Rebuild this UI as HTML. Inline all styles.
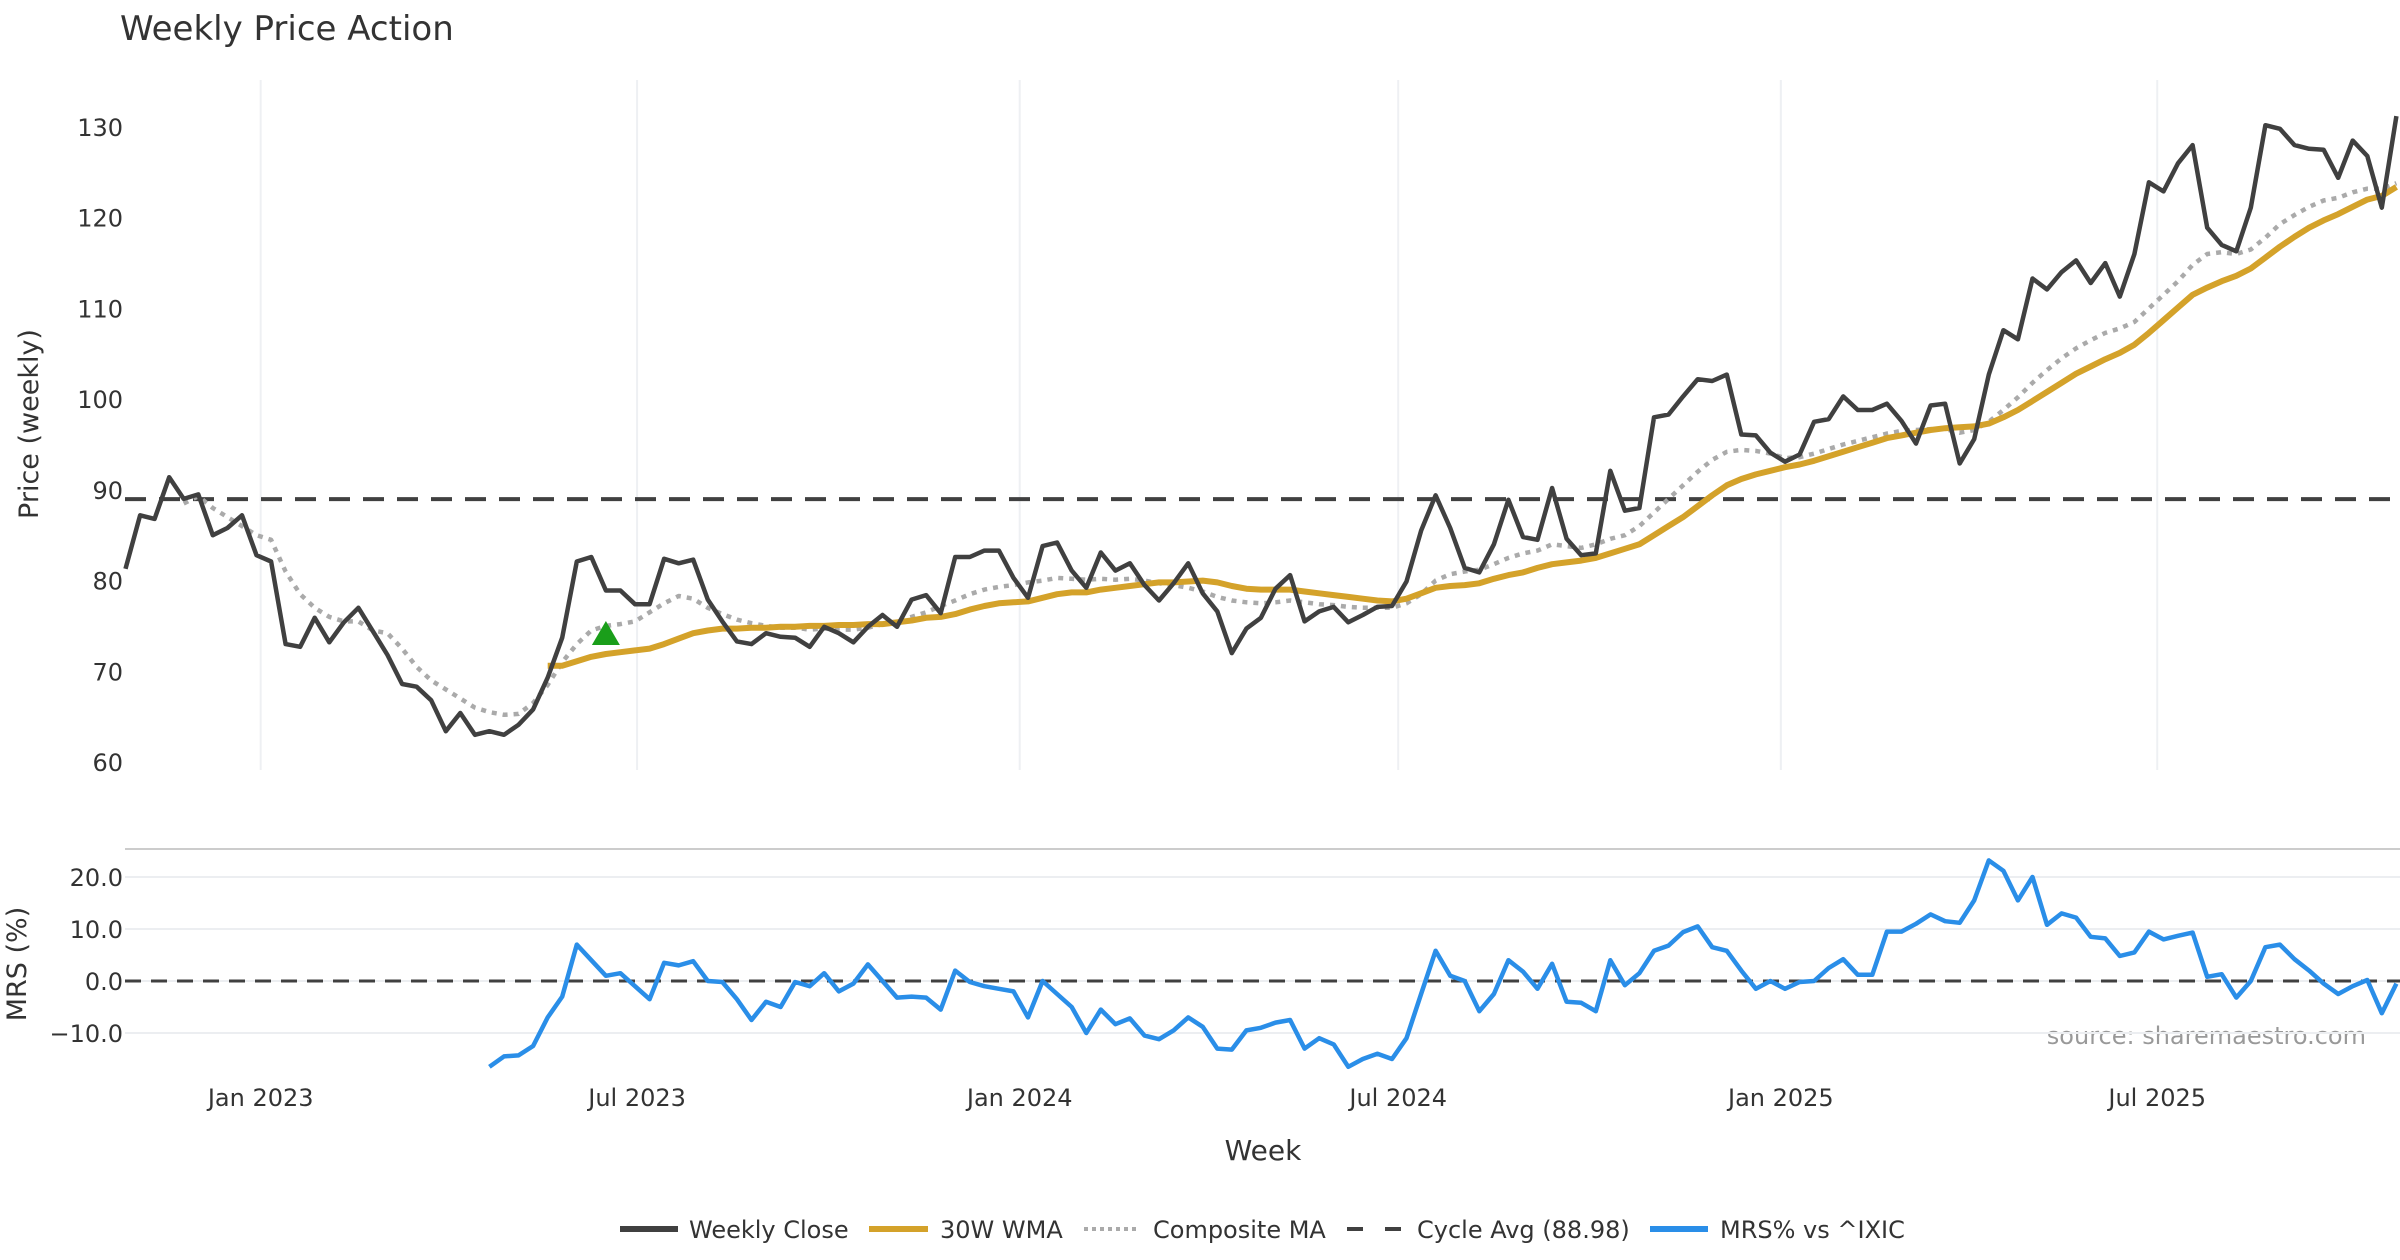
<!DOCTYPE html>
<html><head><meta charset="utf-8">
<style>
html,body{margin:0;padding:0;background:#fff;}
svg{display:block;font-family:"DejaVu Sans","Liberation Sans",sans-serif;}
</style></head>
<body>
<svg id="chart" width="2400" height="1260" viewBox="0 0 2400 1260" xmlns="http://www.w3.org/2000/svg">
<rect width="2400" height="1260" fill="#fff"/>
<text x="120" y="40" font-size="34" fill="#333">Weekly Price Action</text>
<text transform="translate(38,424) rotate(-90)" text-anchor="middle" font-size="27" fill="#333">Price (weekly)</text>
<text transform="translate(26,964) rotate(-90)" text-anchor="middle" font-size="27" fill="#333">MRS (%)</text>
<text x="1263" y="1160" text-anchor="middle" font-size="28" fill="#333">Week</text>
<text x="2366" y="1044" text-anchor="end" font-size="24" fill="#999">source: sharemaestro.com</text>
<g id="grid"></g><g id="marks"></g><g id="axes"></g>
<g id="legend" font-size="24" fill="#333">
 <line x1="620" y1="1229" x2="678" y2="1229" stroke="#404040" stroke-width="6"/>
 <text x="689" y="1238">Weekly Close</text>
 <line x1="869" y1="1229" x2="928" y2="1229" stroke="#d4a22a" stroke-width="6"/>
 <text x="940" y="1238">30W WMA</text>
 <line x1="1084" y1="1229" x2="1140" y2="1229" stroke="#aaa" stroke-width="4" stroke-dasharray="4,4"/>
 <text x="1153" y="1238">Composite MA</text>
 <line x1="1347" y1="1229" x2="1402" y2="1229" stroke="#404040" stroke-width="4" stroke-dasharray="16,22"/>
 <text x="1417" y="1238">Cycle Avg (88.98)</text>
 <line x1="1650" y1="1229" x2="1708" y2="1229" stroke="#2a8ee8" stroke-width="6"/>
 <text x="1720" y="1238">MRS% vs ^IXIC</text>
</g>
</svg>
<script>
const closeVals=[81.3,87.2,86.8,91.4,89.0,89.5,85.0,85.8,87.2,82.8,82.1,73.0,72.7,75.9,73.2,75.4,77.0,74.4,71.8,68.6,68.3,66.8,63.4,65.4,63.0,63.4,63.0,64.1,65.8,69.3,73.7,82.1,82.6,78.9,78.9,77.4,77.4,82.4,81.9,82.3,77.9,75.5,73.3,73.0,74.2,73.8,73.7,72.7,74.9,74.2,73.2,74.9,76.2,74.9,77.9,78.4,76.4,82.6,82.6,83.3,83.3,80.3,78.1,83.8,84.2,81.1,79.2,83.1,81.1,81.9,79.5,77.8,79.7,81.9,78.6,76.6,72.0,74.7,75.9,79.1,80.6,75.5,76.6,77.1,75.4,76.2,77.1,77.2,79.9,85.5,89.4,85.8,81.4,80.9,84.0,88.9,84.8,84.5,90.2,84.6,82.8,83.0,92.1,87.7,88.0,98.0,98.3,100.3,102.2,102.0,102.7,96.1,96.0,94.1,93.1,93.9,97.5,97.8,100.3,98.8,98.8,99.5,97.6,95.1,99.3,99.5,92.9,95.6,102.7,107.6,106.6,113.3,112.1,114.0,115.3,112.8,115.0,111.3,116.0,123.9,122.9,126.0,128.0,118.9,117.0,116.3,121.1,130.2,129.8,128.0,127.6,127.5,124.4,128.5,126.8,121.1,131.2];
const wmaVals=[70.6,70.6,71.1,71.6,71.9,72.1,72.3,72.5,73.0,73.6,74.2,74.5,74.7,74.7,74.8,74.8,74.9,74.9,75.0,75.0,75.1,75.1,75.2,75.2,75.4,75.6,75.9,76.0,76.3,76.8,77.2,77.5,77.6,77.7,78.1,78.5,78.7,78.7,79.0,79.2,79.4,79.6,79.8,79.8,79.9,80.0,79.8,79.4,79.1,79.0,79.0,79.0,78.8,78.6,78.4,78.2,78.0,77.8,77.7,78.0,78.6,79.2,79.4,79.5,79.7,80.2,80.6,80.9,81.4,81.8,82.0,82.2,82.5,83.0,83.5,84.0,85.0,86.0,87.0,88.2,89.4,90.5,91.2,91.7,92.1,92.5,92.8,93.2,93.7,94.2,94.7,95.2,95.7,96.0,96.3,96.6,96.8,96.9,97.0,97.3,98.0,98.8,99.8,100.8,101.8,102.8,103.6,104.4,105.1,106.0,107.3,108.7,110.1,111.5,112.3,113.0,113.6,114.4,115.6,116.8,117.9,118.9,119.7,120.4,121.2,122.0,122.4,123.4];
const compositeVals=[88.5,89.3,88,87,86,85,84.5,81,78.5,77,76,75.5,75.5,74.5,74.2,72.5,70.5,69,68,67,66,65.5,65.2,65.3,66.5,68.5,71,73,74.5,75,75.2,75.5,76.5,77.5,78.3,78,77,76.3,75.7,75.3,75,74.8,74.8,74.6,74.7,74.6,74.6,74.8,75.2,75.5,76,76.5,77.2,77.8,78.5,79,79.3,79.5,79.8,80,80.3,80.2,80.1,80.2,80.1,80.2,80,79.7,79.5,79.2,78.8,78.2,77.8,77.6,77.5,77.6,77.8,77.6,77.4,77.3,77.1,77,77,77,77.5,78.5,80,80.7,81,81.2,81.8,82.5,83,83.3,84,83.8,83.6,84,84.6,85,86,87.5,89,90.5,92,93.3,94.2,94.4,94.3,94.0,93.5,93.6,94.0,94.5,95.0,95.4,95.8,96.2,96.5,96.6,96.7,96.7,96.3,96.6,97.5,98.8,100.2,101.8,103.2,104.5,105.6,106.5,107.3,107.8,108.5,110,111.5,113,114.8,116,116.2,116,116.5,117.8,119.3,120.3,121.2,121.9,122.2,122.8,123.2,123.2,123.8];
const mrsVals=[-16.5,-14.5,-14.3,-12.5,-7,-3,7,4,1,1.5,-1,-3.5,3.5,3,3.8,0,-0.2,-3.5,-7.5,-4,-5,-0.2,-1,1.5,-2,-0.5,3.2,0,-3.2,-3,-3.2,-5.5,2,-0.2,-1,-1.5,-2,-7,0,-2.5,-5,-10,-5.5,-8.3,-7.2,-10.5,-11.2,-9.5,-7,-8.8,-13,-13.2,-9.5,-9,-8,-7.5,-13,-11,-12.2,-16.5,-15,-14,-15,-11,-2.5,5.8,1,0,-5.8,-2.5,4,1.8,-1.5,3.3,-4,-4.2,-5.8,4,-0.8,1.5,5.8,6.8,9.4,10.5,6.5,5.8,2,-1.5,0,-1.5,-0.2,0,2.5,4.2,1.2,1.2,9.5,9.5,11,12.8,11.5,11.2,15.5,23.2,21.2,15.5,20,10.8,13,12.2,8.5,8.2,4.8,5.5,9.5,8,8.7,9.3,0.8,1.3,-3.2,0,6.5,7,4.2,2,-0.5,-2.5,-1,0.2,-6.2,-0.5];
const cycleAvg=[88.98];
const priceTicks=[60,70,80,90,100,110,120,130];
const mrsTicks=[-10,0,10,20];
const dateTickLabels=["Jan 2023","Jul 2023","Jan 2024","Jul 2024","Jan 2025","Jul 2025"];
const dateTickDates=["2023-01-01","2023-07-01","2024-01-01","2024-07-01","2025-01-01","2025-07-01"];
const startDate="2022-10-28";
const signalWeek=[33];
const signalPrice=[74.0];

const NS="http://www.w3.org/2000/svg";
const X0=125.5, STEP=14.557;
function xIdx(i){return X0+i*STEP;}
function xDate(d){return X0+(Date.parse(d)-Date.parse(startDate))/(7*864e5)*STEP;}
function yP(v){return 762-(v-60)*(635/70);}
function yM(v){return 981-v*5.2;}
function mk(tag,attrs,parent){const e=document.createElementNS(NS,tag);for(const k in attrs)e.setAttribute(k,attrs[k]);parent.appendChild(e);return e;}
const grid=document.getElementById('grid'),marks=document.getElementById('marks'),axes=document.getElementById('axes');

// vertical gridlines + date labels
dateTickDates.forEach((d,k)=>{
  const x=xDate(d);
  const g=mk('line',{x1:x,x2:x,y1:80,y2:770,stroke:'#eef0f3','stroke-width':2},grid);
  
  
  const t=mk('text',{x:x,y:1106,'text-anchor':'middle','font-size':24,fill:'#333'},axes);
  t.textContent=dateTickLabels[k];
  
  
});
priceTicks.forEach(v=>{
  const t=mk('text',{x:123,y:yP(v)+9,'text-anchor':'end','font-size':24,fill:'#333'},axes);
  t.textContent=v;
  
  
});
mrsTicks.forEach(v=>{
  const g=mk('line',{x1:125,x2:2400,y1:yM(v),y2:yM(v),stroke:'#eceef1','stroke-width':2},grid);
  
  
  const t=mk('text',{x:123,y:yM(v)+9,'text-anchor':'end','font-size':24,fill:'#333'},axes);
  t.textContent=(v<0?'\u2212'+Math.abs(v).toFixed(1):v.toFixed(1));
  
  
});
const sep=mk('line',{x1:125,x2:2400,y1:849,y2:849,stroke:'#ccc','stroke-width':2},grid);



function series(vals,yf,attrs,name){
  const off=closeVals.length-vals.length;
  const pts=vals.map((v,i)=>xIdx(i+off).toFixed(1)+','+yf(v).toFixed(1)).join(' ');
  const p=mk('polyline',Object.assign({points:pts,fill:'none','stroke-linejoin':'round'},attrs),marks);
  
  
}
const cy=mk('line',{x1:125,x2:2400,y1:yP(cycleAvg[0]),y2:yP(cycleAvg[0]),stroke:'#404040','stroke-width':4,'stroke-dasharray':'21,13'},marks);


const zl=mk('line',{x1:125,x2:2400,y1:yM(0),y2:yM(0),stroke:'#404040','stroke-width':3,'stroke-dasharray':'16,10'},marks);


series(compositeVals,yP,{stroke:'#aaa','stroke-width':4.5,'stroke-dasharray':'5,6'},'composite-ma-line');
series(wmaVals,yP,{stroke:'#d4a22a','stroke-width':6},'wma-30w-line');
series(closeVals,yP,{stroke:'#404040','stroke-width':4.5},'weekly-close-line');
series(mrsVals,yM,{stroke:'#2a8ee8','stroke-width':4.5},'mrs-line');
signalWeek.forEach((w,k)=>{
  const x=xIdx(w),y=yP(signalPrice[k]);
  const t=mk('polygon',{points:(x-14)+','+(y+10)+' '+(x+14)+','+(y+10)+' '+x+','+(y-14),fill:'#1a9e1a'},marks);
  
  
});
</script>
</body></html>
